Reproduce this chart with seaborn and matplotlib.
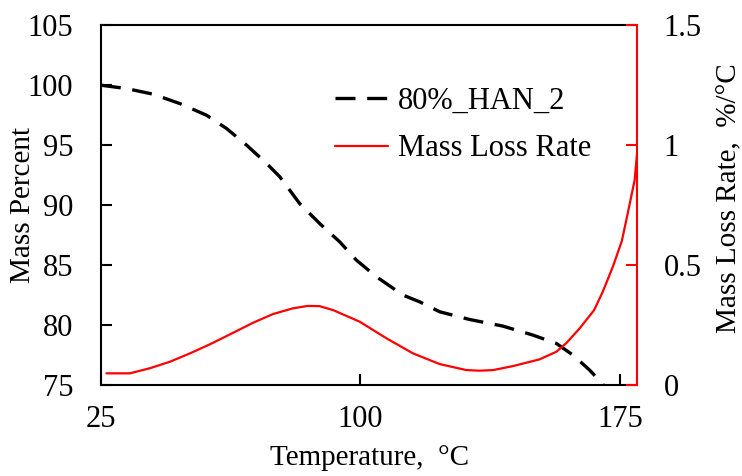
import seaborn as sns
import matplotlib.pyplot as plt
from matplotlib.lines import Line2D

# mass curve
temp_mass = [25, 32.4, 40.1, 47.8, 55.5, 61.3, 67.1, 72.9, 76.7, 82.4, 88.2, 94.0, 98.8,
             104.6, 112.3, 117.1, 122.9, 131.5, 141.1, 149.8, 156.6, 161.4, 166.2, 170.0, 173.5]
mass_pct = [100.0, 99.72, 99.25, 98.47, 97.5, 96.39, 95.0, 93.47, 92.36, 90.14, 88.47, 86.94,
            85.42, 84.03, 82.5, 81.94, 81.11, 80.47, 79.92, 79.17, 78.47, 77.5, 76.25, 75.08, 73.6]

# mass loss rate curve
temp_rate = [26.6, 33.4, 39.1, 44.9, 50.7, 56.5, 63.2, 69.0, 74.7, 80.5, 84.8, 88.2, 92.1,
             99.8, 107.5, 115.2, 122.9, 130.6, 134.4, 138.3, 144.0, 151.7, 156.6, 159.4,
             163.3, 167.5, 170.0, 172.9, 175.5, 177.2, 179.2, 180.0]
rate = [0.049, 0.049, 0.07, 0.097, 0.132, 0.17, 0.218, 0.26, 0.296, 0.32, 0.33, 0.329, 0.3125,
        0.264, 0.195, 0.132, 0.0875, 0.0625, 0.06, 0.0625, 0.079, 0.107, 0.139, 0.174,
        0.236, 0.3125, 0.389, 0.493, 0.6, 0.715, 0.854, 0.98]

x_ticks = [25, 100, 175]
left_ticks = [75, 80, 85, 90, 95, 100, 105]
right_ticks = [0, 0.5, 1, 1.5]
right_labels = ['0', '0.5', '1', '1.5']

sns.set_style('ticks')
plt.rcParams['font.family'] = ['Liberation Serif', 'DejaVu Serif']
plt.rcParams['text.color'] = 'black'
plt.rcParams['axes.labelcolor'] = 'black'
plt.rcParams['xtick.color'] = 'black'
plt.rcParams['ytick.color'] = 'black'
plt.rcParams['lines.solid_capstyle'] = 'round'

fig = plt.figure(figsize=(7.42, 4.76), dpi=100)
ax = fig.add_axes([0.136, 0.191, 0.723, 0.756])
ax2 = ax.twinx()

dash = (0, (6, 3.5))
sns.lineplot(x=temp_mass, y=mass_pct, ax=ax, color='black', linewidth=2.4, linestyle=dash)
sns.lineplot(x=temp_rate, y=rate, ax=ax2, color='red', linewidth=1.6)

ax.set_xlim(25, 180)
ax.set_ylim(75, 105)
ax2.set_ylim(0, 1.5)
ax.set_xticks(x_ticks)
ax.set_yticks(left_ticks)
ax2.set_yticks(right_ticks)
ax2.set_yticklabels(right_labels)

fs = 22
ax.tick_params(axis='x', direction='in', length=8, width=1.5, labelsize=fs, pad=14,
               bottom=True)
ax.tick_params(axis='y', direction='in', length=8, width=1.5, labelsize=fs, pad=20,
               left=True)
ax2.tick_params(axis='y', direction='in', length=8, width=1.5, labelsize=fs, pad=19,
                color='red', labelcolor='black', right=True)

ax.set_xlabel('Temperature,  °C', fontsize=21, labelpad=8)
ax.set_ylabel('Mass Percent', fontsize=21, va='center')
ax2.set_ylabel('Mass Loss Rate,  %/°C', fontsize=21, va='center')
ax.yaxis.set_label_coords(-0.146, 0.5)
ax2.yaxis.set_label_coords(1.172, 0.52)

for sp in ['left', 'bottom', 'top']:
    ax.spines[sp].set_visible(True)
    ax.spines[sp].set_color('black')
    ax.spines[sp].set_linewidth(1.5)
ax.spines['right'].set_visible(False)
ax2.spines['right'].set_visible(True)
ax2.spines['right'].set_color('red')
ax2.spines['right'].set_linewidth(1.5)
for sp in ['top', 'left', 'bottom']:
    ax2.spines[sp].set_visible(False)

handles = [Line2D([], [], color='black', linewidth=2.4, linestyle=dash),
           Line2D([], [], color='red', linewidth=1.6)]
for a in (ax, ax2):
    if a.get_legend() is not None:
        a.get_legend().remove()
ax2.legend(handles, ['80%_HAN_2', 'Mass Loss Rate'], loc='upper left',
           bbox_to_anchor=(0.385, 0.905), frameon=False, fontsize=fs,
           handlelength=1.75, handletextpad=0.3, labelspacing=0.6)

fig.savefig('out.png', dpi=100)
